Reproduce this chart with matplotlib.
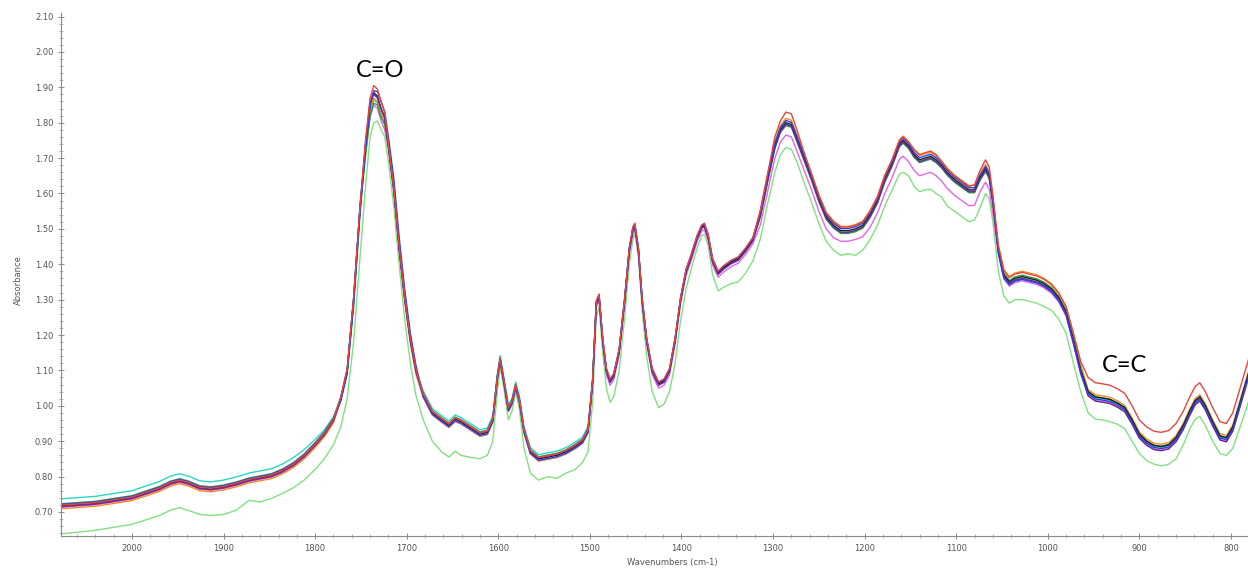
import matplotlib
matplotlib.use("Agg")
import matplotlib.pyplot as plt
from matplotlib.ticker import MultipleLocator, FormatStrFormatter

# Wavenumber grid (cm-1), shared by all spectra
wavenumber = [
    2078, 2040, 2000, 1970, 1958, 1948, 1938, 1926, 1914, 1900,
    1886, 1872, 1860, 1848, 1836, 1824, 1812, 1800, 1790, 1780,
    1772, 1765, 1758, 1751, 1745, 1740, 1736, 1732, 1728, 1724,
    1720, 1714, 1708, 1702, 1696, 1690,
    1682, 1672, 1662, 1654, 1647, 1641, 1632, 1620, 1612, 1606,
    1601, 1598, 1594, 1589, 1585, 1581, 1577, 1572, 1565, 1556,
    1546, 1536, 1526, 1516, 1508, 1502,
    1497, 1493, 1490, 1486, 1482, 1478, 1474, 1468, 1462, 1457,
    1453, 1451, 1447, 1443, 1438, 1432, 1425, 1419, 1413, 1407,
    1401, 1395, 1389, 1383, 1378, 1375, 1371, 1366, 1360, 1354,
    1346, 1338, 1330, 1322,
    1314, 1306, 1298, 1292, 1286, 1280, 1274, 1266, 1258, 1250,
    1242, 1234, 1226, 1218, 1210, 1202, 1194, 1186, 1178, 1170,
    1162, 1158, 1152, 1146, 1140, 1134, 1128, 1122, 1116, 1110,
    1102, 1094, 1086, 1080, 1074, 1068, 1064, 1060,
    1054, 1048, 1042, 1036, 1028, 1020, 1012, 1004, 996, 988,
    980, 972, 964,
    956, 948, 940, 932, 924, 916, 908, 900, 892, 884,
    876, 868, 860, 852, 845, 839, 834, 828, 820, 812,
    805, 798, 790, 781,
]

# Absorbance of each sample
abs_black = [
    0.717, 0.724, 0.740, 0.766, 0.781, 0.788, 0.781, 0.768, 0.765, 0.770,
    0.779, 0.790, 0.796, 0.802, 0.815, 0.833, 0.858, 0.890, 0.920, 0.960,
    1.020, 1.100, 1.300, 1.560, 1.735, 1.850, 1.885, 1.875, 1.840, 1.815,
    1.735, 1.610, 1.440, 1.300, 1.185, 1.100,
    1.030, 0.980, 0.960, 0.945, 0.962, 0.955, 0.940, 0.920, 0.925, 0.960,
    1.080, 1.130, 1.070, 0.990, 1.010, 1.055, 1.015, 0.930, 0.870, 0.850,
    0.855, 0.860, 0.870, 0.885, 0.900, 0.930,
    1.070, 1.290, 1.310, 1.185, 1.100, 1.070, 1.085, 1.155, 1.300, 1.440,
    1.500, 1.510, 1.440, 1.300, 1.185, 1.100, 1.062, 1.070, 1.100, 1.185,
    1.300, 1.380, 1.425, 1.475, 1.505, 1.510, 1.480, 1.410, 1.375, 1.390,
    1.405, 1.415, 1.440, 1.470,
    1.540, 1.640, 1.735, 1.780, 1.800, 1.795, 1.755, 1.700, 1.645, 1.585,
    1.535, 1.510, 1.495, 1.495, 1.500, 1.510, 1.540, 1.580, 1.640, 1.685,
    1.740, 1.750, 1.735, 1.710, 1.695, 1.700, 1.705, 1.695, 1.680, 1.660,
    1.640, 1.625, 1.610, 1.610, 1.645, 1.670, 1.650, 1.580,
    1.440, 1.370, 1.350, 1.360, 1.365, 1.360, 1.355, 1.345, 1.330, 1.305,
    1.265, 1.185, 1.100,
    1.040, 1.025, 1.022, 1.018, 1.008, 0.995, 0.960, 0.920, 0.900, 0.888,
    0.885, 0.890, 0.910, 0.945, 0.985, 1.015, 1.025, 1.000, 0.955, 0.915,
    0.910, 0.940, 1.010, 1.090,
]

abs_blue = [
    0.721, 0.728, 0.744, 0.770, 0.785, 0.792, 0.785, 0.772, 0.769, 0.774,
    0.783, 0.794, 0.800, 0.806, 0.819, 0.837, 0.862, 0.894, 0.924, 0.964,
    1.015, 1.090, 1.280, 1.540, 1.725, 1.850, 1.890, 1.888, 1.860, 1.830,
    1.760, 1.640, 1.470, 1.325, 1.205, 1.115,
    1.026, 0.976, 0.956, 0.941, 0.958, 0.951, 0.936, 0.916, 0.921, 0.956,
    1.076, 1.126, 1.066, 0.986, 1.006, 1.051, 1.011, 0.926, 0.866, 0.846,
    0.851, 0.856, 0.866, 0.881, 0.896, 0.926,
    1.074, 1.294, 1.314, 1.189, 1.104, 1.074, 1.089, 1.159, 1.304, 1.444,
    1.504, 1.514, 1.444, 1.304, 1.189, 1.104, 1.066, 1.074, 1.104, 1.189,
    1.304, 1.384, 1.429, 1.479, 1.509, 1.514, 1.484, 1.414, 1.379, 1.394,
    1.409, 1.419, 1.444, 1.474,
    1.546, 1.646, 1.741, 1.786, 1.806, 1.801, 1.761, 1.706, 1.651, 1.591,
    1.541, 1.516, 1.501, 1.501, 1.506, 1.516, 1.546, 1.586, 1.646, 1.691,
    1.746, 1.756, 1.741, 1.716, 1.701, 1.706, 1.711, 1.701, 1.686, 1.666,
    1.646, 1.631, 1.616, 1.616, 1.651, 1.676, 1.656, 1.586,
    1.432, 1.362, 1.342, 1.352, 1.357, 1.352, 1.347, 1.337, 1.322, 1.297,
    1.257, 1.177, 1.092,
    1.034, 1.019, 1.016, 1.012, 1.002, 0.989, 0.954, 0.914, 0.894, 0.882,
    0.879, 0.884, 0.904, 0.939, 0.979, 1.009, 1.019, 0.994, 0.949, 0.909,
    0.904, 0.934, 1.004, 1.084,
]

abs_red = [
    0.719, 0.726, 0.742, 0.768, 0.783, 0.790, 0.783, 0.770, 0.767, 0.772,
    0.781, 0.792, 0.798, 0.804, 0.817, 0.835, 0.860, 0.892, 0.922, 0.962,
    1.025, 1.105, 1.305, 1.565, 1.750, 1.870, 1.905, 1.895, 1.860, 1.830,
    1.740, 1.615, 1.445, 1.305, 1.190, 1.105,
    1.034, 0.984, 0.964, 0.949, 0.966, 0.959, 0.944, 0.924, 0.929, 0.964,
    1.084, 1.134, 1.074, 0.994, 1.014, 1.059, 1.019, 0.934, 0.874, 0.854,
    0.859, 0.864, 0.874, 0.889, 0.904, 0.934,
    1.076, 1.296, 1.316, 1.191, 1.106, 1.076, 1.091, 1.161, 1.306, 1.446,
    1.506, 1.516, 1.446, 1.306, 1.191, 1.106, 1.068, 1.076, 1.106, 1.191,
    1.306, 1.386, 1.431, 1.481, 1.511, 1.516, 1.486, 1.416, 1.381, 1.396,
    1.411, 1.421, 1.446, 1.476,
    1.550, 1.655, 1.760, 1.805, 1.830, 1.825, 1.780, 1.715, 1.655, 1.595,
    1.545, 1.520, 1.505, 1.505, 1.510, 1.520, 1.550, 1.590, 1.650, 1.695,
    1.750, 1.760, 1.745, 1.725, 1.710, 1.715, 1.720, 1.710, 1.690, 1.670,
    1.650, 1.635, 1.620, 1.625, 1.665, 1.695, 1.675, 1.595,
    1.452, 1.382, 1.362, 1.372, 1.377, 1.372, 1.367, 1.357, 1.342, 1.317,
    1.280, 1.205, 1.125,
    1.080, 1.065, 1.062, 1.058, 1.048, 1.035, 1.000, 0.960, 0.940, 0.928,
    0.925, 0.930, 0.950, 0.985, 1.025, 1.055, 1.065, 1.040, 0.995, 0.955,
    0.950, 0.980, 1.050, 1.130,
]

abs_orange = [
    0.709, 0.716, 0.732, 0.758, 0.773, 0.780, 0.773, 0.760, 0.757, 0.762,
    0.771, 0.782, 0.788, 0.794, 0.807, 0.825, 0.850, 0.882, 0.912, 0.952,
    1.015, 1.095, 1.295, 1.555, 1.730, 1.835, 1.870, 1.860, 1.825, 1.800,
    1.730, 1.605, 1.435, 1.295, 1.180, 1.095,
    1.024, 0.974, 0.954, 0.939, 0.956, 0.949, 0.934, 0.914, 0.919, 0.954,
    1.074, 1.124, 1.064, 0.984, 1.004, 1.049, 1.009, 0.924, 0.864, 0.844,
    0.849, 0.854, 0.864, 0.879, 0.894, 0.924,
    1.072, 1.292, 1.312, 1.187, 1.102, 1.072, 1.087, 1.157, 1.302, 1.442,
    1.502, 1.512, 1.442, 1.302, 1.187, 1.102, 1.064, 1.072, 1.102, 1.187,
    1.302, 1.382, 1.427, 1.477, 1.507, 1.512, 1.482, 1.412, 1.377, 1.392,
    1.407, 1.417, 1.442, 1.472,
    1.552, 1.652, 1.747, 1.792, 1.812, 1.807, 1.767, 1.712, 1.657, 1.597,
    1.547, 1.522, 1.507, 1.507, 1.512, 1.522, 1.552, 1.592, 1.652, 1.697,
    1.752, 1.762, 1.747, 1.722, 1.707, 1.712, 1.717, 1.707, 1.692, 1.672,
    1.652, 1.637, 1.622, 1.622, 1.657, 1.682, 1.662, 1.592,
    1.455, 1.385, 1.365, 1.375, 1.380, 1.375, 1.370, 1.360, 1.345, 1.320,
    1.280, 1.200, 1.115,
    1.046, 1.031, 1.028, 1.024, 1.014, 1.001, 0.966, 0.926, 0.906, 0.894,
    0.891, 0.896, 0.916, 0.951, 0.991, 1.021, 1.031, 1.006, 0.961, 0.921,
    0.916, 0.946, 1.016, 1.096,
]

abs_purple = [
    0.715, 0.722, 0.738, 0.764, 0.779, 0.786, 0.779, 0.766, 0.763, 0.768,
    0.777, 0.788, 0.794, 0.800, 0.813, 0.831, 0.856, 0.888, 0.918, 0.958,
    1.020, 1.100, 1.300, 1.560, 1.740, 1.860, 1.880, 1.870, 1.838, 1.812,
    1.735, 1.610, 1.440, 1.300, 1.185, 1.100,
    1.033, 0.983, 0.963, 0.948, 0.965, 0.958, 0.943, 0.923, 0.928, 0.963,
    1.083, 1.133, 1.073, 0.993, 1.013, 1.058, 1.018, 0.933, 0.873, 0.853,
    0.858, 0.863, 0.873, 0.888, 0.903, 0.933,
    1.066, 1.286, 1.306, 1.181, 1.096, 1.066, 1.081, 1.151, 1.296, 1.436,
    1.496, 1.506, 1.436, 1.296, 1.181, 1.096, 1.058, 1.066, 1.096, 1.181,
    1.296, 1.376, 1.421, 1.471, 1.501, 1.506, 1.476, 1.406, 1.371, 1.386,
    1.401, 1.411, 1.436, 1.466,
    1.535, 1.635, 1.730, 1.775, 1.795, 1.790, 1.750, 1.695, 1.640, 1.580,
    1.530, 1.505, 1.490, 1.490, 1.495, 1.505, 1.535, 1.575, 1.635, 1.680,
    1.735, 1.745, 1.730, 1.705, 1.690, 1.695, 1.700, 1.690, 1.675, 1.655,
    1.635, 1.620, 1.605, 1.605, 1.640, 1.665, 1.645, 1.575,
    1.435, 1.365, 1.345, 1.355, 1.360, 1.355, 1.350, 1.340, 1.325, 1.300,
    1.260, 1.180, 1.095,
    1.028, 1.013, 1.010, 1.006, 0.996, 0.983, 0.948, 0.908, 0.888, 0.876,
    0.873, 0.878, 0.898, 0.933, 0.973, 1.003, 1.013, 0.988, 0.943, 0.903,
    0.898, 0.928, 0.998, 1.078,
]

abs_teal = [
    0.737, 0.744, 0.760, 0.786, 0.801, 0.808, 0.801, 0.788, 0.785, 0.790,
    0.799, 0.810, 0.816, 0.822, 0.835, 0.853, 0.876, 0.905, 0.932, 0.968,
    1.025, 1.105, 1.305, 1.560, 1.730, 1.830, 1.865, 1.855, 1.820, 1.795,
    1.735, 1.610, 1.440, 1.300, 1.185, 1.100,
    1.042, 0.992, 0.972, 0.957, 0.974, 0.967, 0.952, 0.932, 0.937, 0.972,
    1.092, 1.142, 1.082, 1.002, 1.022, 1.067, 1.027, 0.942, 0.882, 0.862,
    0.867, 0.872, 0.882, 0.897, 0.912, 0.942,
    1.074, 1.294, 1.314, 1.189, 1.104, 1.074, 1.089, 1.159, 1.304, 1.444,
    1.504, 1.514, 1.444, 1.304, 1.189, 1.104, 1.066, 1.074, 1.104, 1.189,
    1.304, 1.384, 1.429, 1.479, 1.509, 1.514, 1.484, 1.414, 1.379, 1.394,
    1.409, 1.419, 1.444, 1.474,
    1.536, 1.636, 1.731, 1.776, 1.796, 1.791, 1.751, 1.696, 1.641, 1.581,
    1.531, 1.506, 1.491, 1.491, 1.496, 1.506, 1.536, 1.576, 1.636, 1.681,
    1.736, 1.746, 1.731, 1.706, 1.691, 1.696, 1.701, 1.691, 1.676, 1.656,
    1.636, 1.621, 1.606, 1.606, 1.641, 1.666, 1.646, 1.576,
    1.436, 1.366, 1.346, 1.356, 1.361, 1.356, 1.351, 1.341, 1.326, 1.301,
    1.261, 1.181, 1.096,
    1.037, 1.022, 1.019, 1.015, 1.005, 0.992, 0.957, 0.917, 0.897, 0.885,
    0.882, 0.887, 0.907, 0.942, 0.982, 1.012, 1.022, 0.997, 0.952, 0.912,
    0.907, 0.937, 1.007, 1.087,
]

abs_magenta = [
    0.713, 0.720, 0.736, 0.762, 0.777, 0.784, 0.777, 0.764, 0.761, 0.766,
    0.775, 0.786, 0.792, 0.798, 0.811, 0.829, 0.854, 0.886, 0.916, 0.956,
    1.015, 1.095, 1.295, 1.555, 1.715, 1.815, 1.850, 1.840, 1.805, 1.780,
    1.725, 1.600, 1.430, 1.290, 1.175, 1.090,
    1.024, 0.974, 0.954, 0.939, 0.956, 0.949, 0.934, 0.914, 0.919, 0.954,
    1.074, 1.124, 1.064, 0.984, 1.004, 1.049, 1.009, 0.924, 0.864, 0.844,
    0.849, 0.854, 0.864, 0.879, 0.894, 0.924,
    1.058, 1.278, 1.298, 1.173, 1.088, 1.058, 1.073, 1.143, 1.288, 1.428,
    1.488, 1.498, 1.428, 1.288, 1.173, 1.088, 1.050, 1.058, 1.088, 1.173,
    1.288, 1.368, 1.413, 1.463, 1.493, 1.498, 1.468, 1.398, 1.363, 1.378,
    1.393, 1.403, 1.428, 1.458,
    1.510, 1.605, 1.700, 1.745, 1.765, 1.760, 1.720, 1.665, 1.610, 1.550,
    1.500, 1.475, 1.465, 1.465, 1.470, 1.478, 1.505, 1.545, 1.600, 1.645,
    1.697, 1.705, 1.690, 1.665, 1.650, 1.655, 1.660, 1.650, 1.635, 1.615,
    1.595, 1.580, 1.565, 1.567, 1.605, 1.632, 1.612, 1.545,
    1.428, 1.358, 1.338, 1.348, 1.353, 1.348, 1.343, 1.333, 1.318, 1.293,
    1.253, 1.173, 1.088,
    1.030, 1.015, 1.012, 1.008, 0.998, 0.985, 0.950, 0.910, 0.890, 0.878,
    0.875, 0.880, 0.900, 0.935, 0.975, 1.005, 1.015, 0.990, 0.945, 0.905,
    0.900, 0.930, 1.000, 1.080,
]

abs_green = [
    0.723, 0.730, 0.746, 0.772, 0.787, 0.794, 0.787, 0.774, 0.771, 0.776,
    0.785, 0.796, 0.802, 0.808, 0.821, 0.839, 0.864, 0.896, 0.926, 0.966,
    1.020, 1.100, 1.300, 1.560, 1.705, 1.820, 1.855, 1.850, 1.815, 1.795,
    1.735, 1.610, 1.440, 1.300, 1.185, 1.100,
    1.036, 0.986, 0.966, 0.951, 0.968, 0.961, 0.946, 0.926, 0.931, 0.966,
    1.086, 1.136, 1.076, 0.996, 1.016, 1.061, 1.021, 0.936, 0.876, 0.856,
    0.861, 0.866, 0.876, 0.891, 0.906, 0.936,
    1.070, 1.290, 1.310, 1.185, 1.100, 1.070, 1.085, 1.155, 1.300, 1.440,
    1.500, 1.510, 1.440, 1.300, 1.185, 1.100, 1.062, 1.070, 1.100, 1.185,
    1.300, 1.380, 1.425, 1.475, 1.505, 1.510, 1.480, 1.410, 1.375, 1.390,
    1.405, 1.415, 1.440, 1.470,
    1.532, 1.632, 1.727, 1.772, 1.792, 1.787, 1.747, 1.692, 1.637, 1.577,
    1.527, 1.502, 1.487, 1.487, 1.492, 1.502, 1.532, 1.572, 1.632, 1.677,
    1.732, 1.742, 1.727, 1.702, 1.687, 1.692, 1.697, 1.687, 1.672, 1.652,
    1.632, 1.617, 1.602, 1.602, 1.637, 1.662, 1.642, 1.572,
    1.444, 1.374, 1.354, 1.364, 1.369, 1.364, 1.359, 1.349, 1.334, 1.309,
    1.269, 1.189, 1.104,
    1.040, 1.025, 1.022, 1.018, 1.008, 0.995, 0.960, 0.920, 0.900, 0.888,
    0.885, 0.890, 0.910, 0.945, 0.985, 1.015, 1.025, 1.000, 0.955, 0.915,
    0.910, 0.940, 1.010, 1.090,
]

abs_light_green = [
    0.638, 0.648, 0.665, 0.690, 0.705, 0.712, 0.704, 0.693, 0.690, 0.693,
    0.705, 0.733, 0.728, 0.738, 0.752, 0.768, 0.790, 0.820, 0.850, 0.890,
    0.940, 1.020, 1.180, 1.420, 1.620, 1.760, 1.800, 1.805, 1.780, 1.760,
    1.690, 1.560, 1.390, 1.240, 1.120, 1.030,
    0.960, 0.900, 0.870, 0.855, 0.872, 0.860, 0.855, 0.850, 0.860, 0.900,
    1.040, 1.110, 1.050, 0.960, 0.985, 1.040, 0.990, 0.880, 0.810, 0.790,
    0.800, 0.795, 0.810, 0.820, 0.840, 0.870,
    1.010, 1.250, 1.280, 1.150, 1.050, 1.010, 1.025, 1.100, 1.250, 1.400,
    1.470, 1.490, 1.420, 1.270, 1.140, 1.040, 0.995, 1.005, 1.040, 1.120,
    1.240, 1.330, 1.390, 1.445, 1.480, 1.485, 1.455, 1.370, 1.325, 1.335,
    1.345, 1.350, 1.375, 1.410,
    1.470, 1.570, 1.660, 1.710, 1.730, 1.725, 1.690, 1.630, 1.575, 1.515,
    1.465, 1.440, 1.425, 1.430, 1.425, 1.440, 1.470, 1.510, 1.565, 1.610,
    1.655, 1.660, 1.650, 1.620, 1.605, 1.610, 1.612, 1.600, 1.590, 1.565,
    1.550, 1.535, 1.520, 1.525, 1.560, 1.600, 1.585, 1.520,
    1.380, 1.310, 1.290, 1.300, 1.300, 1.295, 1.290, 1.280, 1.270, 1.245,
    1.205, 1.120, 1.040,
    0.980, 0.962, 0.960, 0.955, 0.948, 0.935, 0.900, 0.865, 0.845, 0.835,
    0.830, 0.835, 0.850, 0.890, 0.935, 0.962, 0.970, 0.945, 0.900, 0.865,
    0.860, 0.880, 0.940, 1.010,
]

# Drawing order: back to front
series = [
    (abs_light_green, "#80e27e"),
    (abs_teal, "#2fd4c2"),
    (abs_magenta, "#e464ea"),
    (abs_orange, "#f08c28"),
    (abs_green, "#2e9e4a"),
    (abs_black, "#1c1c1c"),
    (abs_purple, "#6a2c91"),
    (abs_blue, "#2b40d8"),
    (abs_red, "#e8453e"),
]

fig = plt.figure(figsize=(12.48, 5.69), dpi=100)
ax = fig.add_axes([61 / 1248, 1 - 536 / 569, 1 - 61 / 1248, (536 - 13) / 569])

for values, colour in series:
    ax.plot(wavenumber, values, color=colour, lw=1.0)

ax.set_xlim(2077.5, 781.4)
ax.set_ylim(0.632, 2.11)

for side in ("top", "right"):
    ax.spines[side].set_visible(False)
for side in ("left", "bottom"):
    ax.spines[side].set_color("#8a8a8a")
    ax.spines[side].set_linewidth(0.8)

ax.xaxis.set_major_locator(MultipleLocator(100))
ax.xaxis.set_minor_locator(MultipleLocator(20))
ax.yaxis.set_major_locator(MultipleLocator(0.10))
ax.yaxis.set_minor_locator(MultipleLocator(0.02))
ax.yaxis.set_major_formatter(FormatStrFormatter("%.2f"))
ax.xaxis.set_major_formatter(FormatStrFormatter("%d"))
ax.tick_params(which="major", direction="inout", length=5, width=0.7,
               color="#8a8a8a", labelsize=6, labelcolor="#555555", pad=3)
ax.tick_params(which="minor", direction="inout", length=3, width=0.5,
               color="#9a9a9a")

fig.text(18 / 1248, 1 - 280 / 569, "Absorbance", rotation=90, ha="center",
         va="center", fontsize=6, color="#555555")
fig.text(672 / 1248, 1 - 563 / 569, "Wavenumbers (cm-1)", ha="center",
         va="center", fontsize=6, color="#555555")

ax.text(1729, 1.947, "C=O", ha="center", va="center", fontsize=17,
        family="Lato", color="black")
ax.text(916, 1.115, "C=C", ha="center", va="center", fontsize=17,
        family="Lato", color="black")

fig.savefig("out.png", dpi=100, facecolor="white")
